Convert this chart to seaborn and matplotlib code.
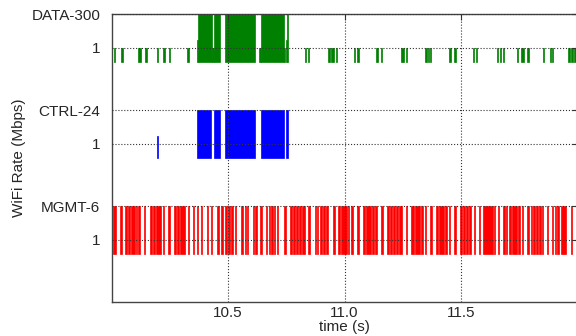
import numpy as np
import pandas as pd
import matplotlib
matplotlib.use("Agg")
import matplotlib.pyplot as plt
import seaborn as sns

# --- data (start time s, airtime s, rate Mbps) ---
mgmt_t = [10.006, 10.036, 10.058, 10.071, 10.084, 10.105, 10.114, 10.139, 10.165, 10.178,
          10.191, 10.221, 10.242, 10.268, 10.281, 10.294, 10.328, 10.350, 10.367, 10.384,
          10.410, 10.427, 10.453, 10.470, 10.487, 10.500, 10.513, 10.530, 10.556, 10.573,
          10.582, 10.607, 10.616, 10.637, 10.663, 10.676, 10.685, 10.697, 10.710, 10.740,
          10.766, 10.779, 10.792, 10.805, 10.818, 10.843, 10.873, 10.882, 10.895, 10.908,
          10.921, 10.951, 10.972, 10.985, 11.015, 11.028, 11.054, 11.079, 11.092, 11.118,
          11.131, 11.157, 11.182, 11.195, 11.208, 11.221, 11.234, 11.264, 11.285, 11.303,
          11.328, 11.346, 11.367, 11.393, 11.406, 11.431, 11.449, 11.470, 11.496, 11.509,
          11.522, 11.534, 11.556, 11.577, 11.595, 11.642, 11.659, 11.680, 11.693, 11.706,
          11.719, 11.745, 11.762, 11.783, 11.800, 11.809, 11.822, 11.835, 11.848, 11.869,
          11.891, 11.903, 11.912, 11.929, 11.972]
mgmt_dur = [0.013, 0.009, 0.009, 0.009, 0.017, 0.004, 0.009, 0.004, 0.009, 0.009,
            0.021, 0.004, 0.009, 0.009, 0.009, 0.021, 0.004, 0.004, 0.004, 0.004,
            0.004, 0.004, 0.009, 0.009, 0.009, 0.009, 0.009, 0.004, 0.009, 0.004,
            0.004, 0.004, 0.009, 0.009, 0.004, 0.004, 0.009, 0.004, 0.004, 0.009,
            0.009, 0.009, 0.009, 0.009, 0.013, 0.009, 0.004, 0.004, 0.009, 0.009,
            0.009, 0.009, 0.009, 0.026, 0.004, 0.009, 0.009, 0.009, 0.021, 0.009,
            0.009, 0.009, 0.009, 0.009, 0.009, 0.009, 0.013, 0.004, 0.013, 0.021,
            0.009, 0.004, 0.009, 0.009, 0.021, 0.009, 0.004, 0.009, 0.009, 0.009,
            0.009, 0.009, 0.004, 0.004, 0.043, 0.004, 0.004, 0.009, 0.004, 0.009,
            0.021, 0.009, 0.004, 0.009, 0.004, 0.009, 0.009, 0.009, 0.004, 0.004,
            0.004, 0.004, 0.009, 0.021, 0.004]
mgmt_rate = [6] * len(mgmt_t)

ctrl_t = [10.195, 10.367, 10.440, 10.487, 10.642, 10.749]
ctrl_dur = [0.004, 0.060, 0.026, 0.129, 0.099, 0.009]
ctrl_rate = [2, 24, 24, 24, 24, 24]

data_t = [10.011, 10.041, 10.114, 10.144, 10.195, 10.221, 10.247, 10.324, 10.367, 10.371,
          10.431, 10.440, 10.487, 10.633, 10.642, 10.740, 10.749, 10.753, 10.830, 10.843,
          10.929, 10.942, 10.964, 11.041, 11.054, 11.135, 11.157, 11.243, 11.264, 11.346,
          11.358, 11.367, 11.449, 11.470, 11.552, 11.564, 11.655, 11.667, 11.680, 11.740,
          11.758, 11.783, 11.852, 11.882, 11.891, 11.959, 11.972, 11.985]
data_dur = [0.005, 0.009, 0.013, 0.009, 0.004, 0.009, 0.004, 0.009, 0.004, 0.060,
            0.009, 0.026, 0.129, 0.009, 0.099, 0.004, 0.004, 0.004, 0.004, 0.004,
            0.009, 0.013, 0.004, 0.004, 0.009, 0.009, 0.004, 0.013, 0.004, 0.009,
            0.004, 0.004, 0.009, 0.009, 0.004, 0.004, 0.004, 0.004, 0.004, 0.004,
            0.013, 0.009, 0.004, 0.004, 0.004, 0.009, 0.009, 0.009]
data_rate = [1, 1, 1, 1, 1, 1, 1, 1, 3.5, 300,
             1, 300, 300, 1, 300, 1, 3.5, 300, 1, 1,
             1, 1, 1, 1, 1, 1, 1, 1, 1, 1,
             1, 1, 1, 1, 1, 1, 1, 1, 1, 1,
             1, 1, 1, 1, 1, 1, 1, 1]

groups = ['MGMT', 'CTRL', 'DATA']
group_max = [6, 24, 300]
group_color = ['red', 'blue', 'green']
one_frac = 0.3  # where rate 1 sits inside a row

frames = []
for g, t, d, r in [('MGMT', mgmt_t, mgmt_dur, mgmt_rate),
                   ('CTRL', ctrl_t, ctrl_dur, ctrl_rate),
                   ('DATA', data_t, data_dur, data_rate)]:
    frames.append(pd.DataFrame({'group': g, 'time': t, 'dur': d, 'rate': r}))
df = pd.concat(frames, ignore_index=True)

# --- plot ---
sns.set_style("white")
plt.rcParams['font.family'] = ['Liberation Sans', 'DejaVu Sans']
plt.rcParams['font.size'] = 11

fig = plt.figure(figsize=(5.76, 3.36), dpi=100)
ax = fig.add_axes([111.5 / 576, 34 / 336, 466 / 576, 288 / 336])

ticks, labels = [], []
for i, g in enumerate(groups):
    base = 2 * i + 1
    m = group_max[i]
    sub = df[df['group'] == g]
    h = one_frac + (1 - one_frac) * np.log(sub['rate']) / np.log(m)
    ax.bar(sub['time'], h, width=sub['dur'], bottom=base, align='edge',
           color=group_color[i], edgecolor=group_color[i], linewidth=0.5, zorder=1)
    ticks += [base + one_frac, base + 1]
    labels += ['1', f'{g}-{m}']

ax.set_xlim(10.0, 12.0)
ax.set_ylim(0, 6)
ax.set_xticks([10.5, 11.0, 11.5])
ax.set_xticklabels(['10.5', '11.0', '11.5'])
ax.set_yticks(ticks)
ax.set_yticklabels(labels)
ax.grid(True, linestyle=':', color='#333333', linewidth=0.8, zorder=3)
ax.set_axisbelow(False)
ax.tick_params(direction='in', length=4, top=True, right=True, color='#333333')
ax.tick_params(axis='y', pad=8)
ax.tick_params(axis='x', pad=3)
for s in ax.spines.values():
    s.set_color('#444444')
    s.set_linewidth(1.0)
ax.set_xlabel('time (s)', labelpad=0)
ax.set_ylabel('WiFi Rate (Mbps)', labelpad=4)

fig.savefig('out.png', dpi=100)
